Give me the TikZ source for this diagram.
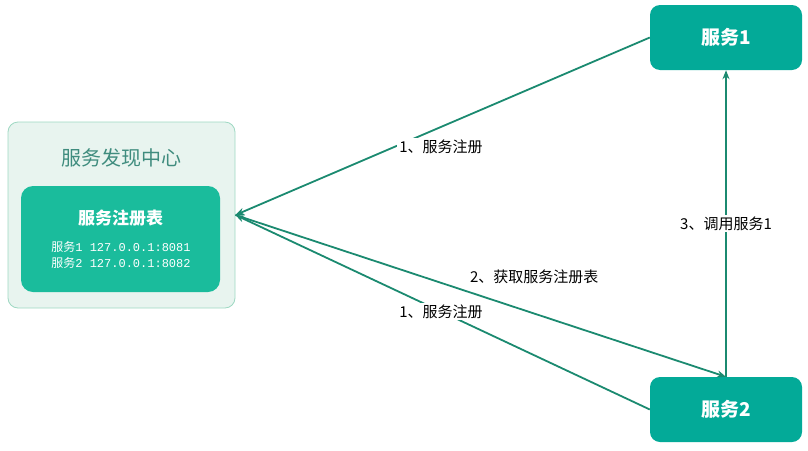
\documentclass[tikz,border=0pt]{standalone}
\usepackage{fontspec}
\setmainfont{Noto Sans CJK SC}
\newfontfamily\cjk{Noto Sans CJK SC}
\newfontfamily\addrmono{Liberation Mono}
\usetikzlibrary{arrows.meta}
\definecolor{linkgreen}{HTML}{1B8A70}
\definecolor{svcgreen}{HTML}{03AA98}
\definecolor{regfill}{HTML}{1ABC9C}
\definecolor{centerfill}{HTML}{E8F4EF}
\definecolor{centerline}{HTML}{9ED8C2}
\definecolor{centertext}{HTML}{3F8C7E}
\newcommand{\svcaddr}[2]{{\cjk 服务}#1 127.0.0.1:#2}
\tikzset{
  svc/.style={rectangle,rounded corners=10pt,fill=svcgreen,text=white,
    minimum width=152pt,minimum height=65pt,font=\fontsize{19}{21}\selectfont\bfseries},
  link/.style={draw=linkgreen,line width=1.8pt,-{Stealth[length=9pt,width=7pt]}},
  lbl/.style={fill=white,inner sep=2pt,font=\fontsize{15}{17}\selectfont}
}
\begin{document}
\begin{tikzpicture}[x=1pt,y=-1pt]
\useasboundingbox (0,0) rectangle (808,450);
\node[rectangle,rounded corners=10pt,fill=centerfill,draw=centerline,line width=0.8pt,
  minimum width=227pt,minimum height=186pt] (center) at (121.5,215) {};
\node[text=centertext,font=\fontsize{20}{22}\selectfont] (title) at (121.5,158) {服务发现中心};
\node[rectangle,rounded corners=12pt,fill=regfill,minimum width=199pt,minimum height=106pt] (reg) at (120.5,239) {};
\node[text=white,font=\fontsize{17}{19}\selectfont\bfseries] (regtitle) at (120.5,218) {服务注册表};
\node[text=white,align=left,font=\addrmono\fontsize{12}{16}\selectfont] (reglist) at (121,255)
  {\svcaddr{1}{8081}\\\svcaddr{2}{8082}};
\node[svc] (s1) at (726,37.5) {服务1};
\node[svc] (s2) at (726,409.5) {服务2};
\draw[link] (s1.west) -- node[pos=0.504,lbl,yshift=-20pt] {1、服务注册} (center.east);
\draw[link] (s2.west) -- node[pos=0.504,lbl] {1、服务注册} (center.east);
\draw[link] (center.east) -- node[pos=0.609,lbl,yshift=37pt] {2、获取服务注册表} (s2.north);
\draw[link] (s2.north) -- node[pos=0.5,lbl] {3、调用服务1} (s1.south);
\end{tikzpicture}
\end{document}
